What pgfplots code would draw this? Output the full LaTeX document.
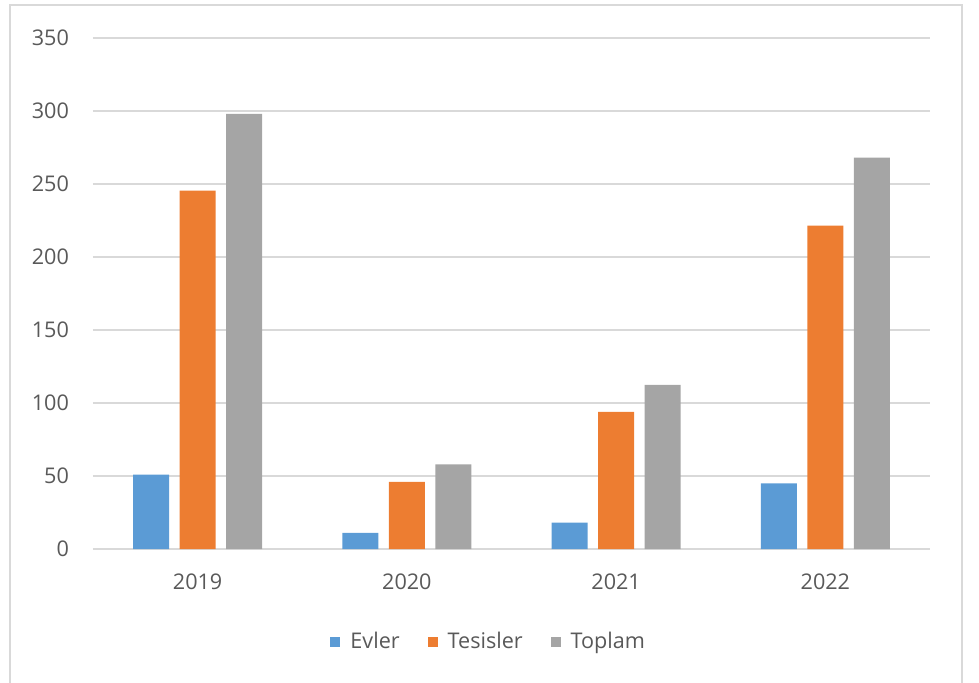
\documentclass[border=0pt]{standalone}
\usepackage{pgfplots}
\pgfplotsset{compat=1.18}
\usepackage{fontspec}
\setmainfont{Open Sans}
\definecolor{cBlue}{HTML}{5B9BD5}
\definecolor{cOrange}{HTML}{ED7D31}
\definecolor{cGray}{HTML}{A5A5A5}
\definecolor{cText}{HTML}{595959}
\definecolor{cGrid}{HTML}{D9D9D9}
\begin{document}
\begin{tikzpicture}
\path[use as bounding box] (-46.5pt,-66.5pt) rectangle (443pt,274.5pt);
\begin{axis}[
  at={(0,0)}, anchor=south west,
  scale only axis,
  width=418.5pt, height=255.5pt,
  xmin=-0.5, xmax=3.5,
  ymin=0, ymax=350,
  ytick={0,50,...,350},
  xtick={0,1,2,3},
  xticklabels={2019,2020,2021,2022},
  axis line style={draw=none},
  major tick length=0pt,
  ymajorgrids,
  grid style={cGrid, line width=0.8pt},
  tick label style={font=\fontsize{10.8}{13}\selectfont, text=cText},
  /pgf/number format/assume math mode=true,
  yticklabel style={xshift=-8.5pt},
  xticklabel style={yshift=-9pt},
  ybar, bar width=0.172,
  legend columns=3,
  legend style={at={(0.474,-0.182)}, anchor=center, draw=none,
    font=\fontsize{10.8}{13}\selectfont, text=cText,
    /tikz/every odd column/.append style={column sep=3pt},
    /tikz/every even column/.append style={column sep=12pt}},
  legend image code/.code={\fill[#1] (0pt,-2.5pt) rectangle (5pt,2.5pt);},
]
\addplot[fill=cBlue, draw=none, bar shift=-0.222] coordinates {(0,51) (1,11) (2,18) (3,45)};
\addplot[fill=cOrange, draw=none, bar shift=0] coordinates {(0,245.5) (1,46) (2,94) (3,221.5)};
\addplot[fill=cGray, draw=none, bar shift=0.222] coordinates {(0,298) (1,58) (2,112.5) (3,268)};
\legend{Evler,Tesisler,Toplam}
\end{axis}
\draw[cGrid, line width=1pt] (-41.5pt,-67pt) -- (-41.5pt,272pt) -- (434.5pt,272pt) -- (434.5pt,-67pt);
\end{tikzpicture}
\end{document}
